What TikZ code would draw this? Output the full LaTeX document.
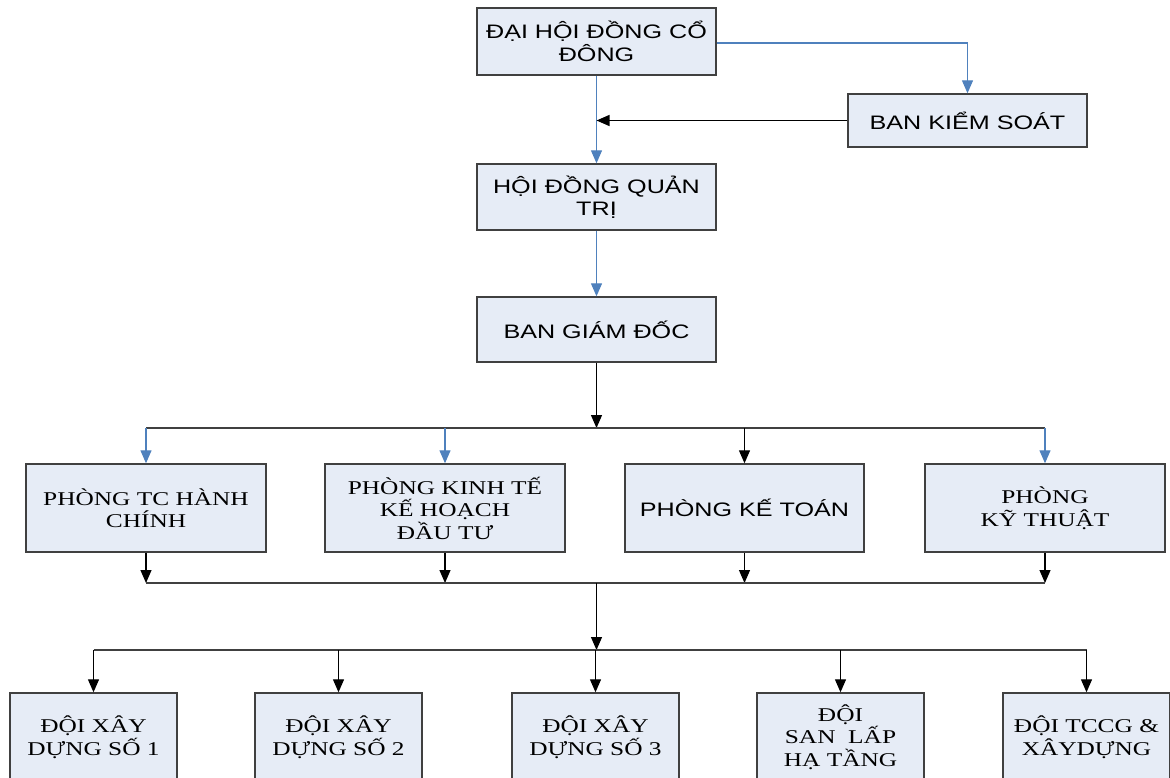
\documentclass[tikz,border=0pt]{standalone}
\usepackage{fontspec}
\setmainfont{Liberation Serif}
\newfontfamily\arialS[FakeStretch=1.29]{Liberation Sans}
\newfontfamily\timesS[FakeStretch=1.30]{Liberation Serif}
\usetikzlibrary{arrows.meta}
\definecolor{boxfill}{RGB}{230,236,246}
\definecolor{boxdraw}{RGB}{64,64,64}
\definecolor{linkblue}{RGB}{79,129,189}
\begin{document}
\begin{tikzpicture}[x=1pt,y=-1pt,
  box/.style={draw=boxdraw, line width=1.4pt, fill=boxfill, inner sep=0pt, align=center},
  sanstxt/.style={font={\arialS\fontsize{19.5}{22.5}\selectfont}},
  seriftxt/.style={font={\timesS\fontsize{19.5}{22.5}\selectfont}},
  topbox/.style={box, sanstxt, minimum width=239pt, minimum height=66pt},
  phbox/.style={box, minimum width=240pt, minimum height=88pt},
  doibox/.style={box, seriftxt, minimum width=167pt, minimum height=88pt},
  blk/.style={draw=black, line width=1.2pt, -{Triangle[length=13pt,width=11pt]}},
  blu/.style={draw=linkblue, line width=1.2pt, -{Triangle[length=13pt,width=11pt]}},
  busline/.style={draw=black!75, line width=1.2pt}]
\useasboundingbox (0,0) rectangle (1170,778);

% top part
\node[topbox, minimum height=67pt] (dhcd) at (596.5,41.5) {ĐẠI HỘI ĐỒNG CỔ\\ĐÔNG};
\node[box, sanstxt, minimum width=239pt, minimum height=53pt] (bks) at (967.5,120.5) {BAN KIỂM SOÁT};
\node[topbox] (hdqt) at (596.5,197) {HỘI ĐỒNG QUẢN\\TRỊ};
\node[topbox, minimum height=65pt] (bgd) at (596.5,329.5) {BAN GIÁM ĐỐC};

% departments
\node[phbox, seriftxt] (p1) at (146,508) {PHÒNG TC HÀNH\\CHÍNH};
\node[phbox, seriftxt] (p2) at (445,508) {PHÒNG KINH TẾ\\KẾ HOẠCH\\ĐẦU TƯ};
\node[phbox, sanstxt, minimum width=239pt] (p3) at (744.5,508) {PHÒNG KẾ TOÁN};
\node[phbox, seriftxt] (p4) at (1045,508) {PHÒNG\\KỸ THUẬT};

% teams
\node[doibox] (d1) at (93.5,737) {ĐỘI XÂY\\DỰNG SỐ 1};
\node[doibox] (d2) at (338.5,737) {ĐỘI XÂY\\DỰNG SỐ 2};
\node[doibox] (d3) at (595.5,737) {ĐỘI XÂY\\DỰNG SỐ 3};
\node[doibox] (d4) at (840.5,737) {ĐỘI\\SAN~ LẤP\\HẠ TẦNG};
\node[doibox] (d5) at (1086.5,737) {ĐỘI TCCG \&\\XÂYDỰNG};

% top connectors
\coordinate (e1) at ([yshift=-1.5pt]dhcd.east);
\draw[blu] (dhcd.south) -- (hdqt.north);
\draw[blu] (e1) -- (bks.north |- e1) -- (bks.north);
\coordinate (j1) at (dhcd.south |- bks.west);
\draw[blk] (bks.west) -- (j1);
\draw[blu] (hdqt.south) -- (bgd.north);

% bus 1
\coordinate (bus1) at (596.5,428);
\draw[blk] (bgd.south) -- (bus1);
\draw[busline] (p1.north |- bus1) -- (p4.north |- bus1);
\draw[blu] (p1.north |- bus1) -- (p1.north);
\draw[blu] (p2.north |- bus1) -- (p2.north);
\draw[blk] (p3.north |- bus1) -- (p3.north);
\draw[blu] (p4.north |- bus1) -- (p4.north);

% bus 2
\coordinate (bus2) at (596.5,583);
\draw[blk] (p1.south) -- (p1.south |- bus2);
\draw[blk] (p2.south) -- (p2.south |- bus2);
\draw[blk] (p3.south) -- (p3.south |- bus2);
\draw[blk] (p4.south) -- (p4.south |- bus2);
\draw[busline] (p1.south |- bus2) -- (p4.south |- bus2);

% bus 3
\coordinate (bus3) at (596.5,650);
\draw[blk] (bus2) -- (bus3);
\draw[busline] (d1.north |- bus3) -- (d5.north |- bus3);
\draw[blk] (d1.north |- bus3) -- (d1.north);
\draw[blk] (d2.north |- bus3) -- (d2.north);
\draw[blk] (d3.north |- bus3) -- (d3.north);
\draw[blk] (d4.north |- bus3) -- (d4.north);
\draw[blk] (d5.north |- bus3) -- (d5.north);
\end{tikzpicture}
\end{document}
